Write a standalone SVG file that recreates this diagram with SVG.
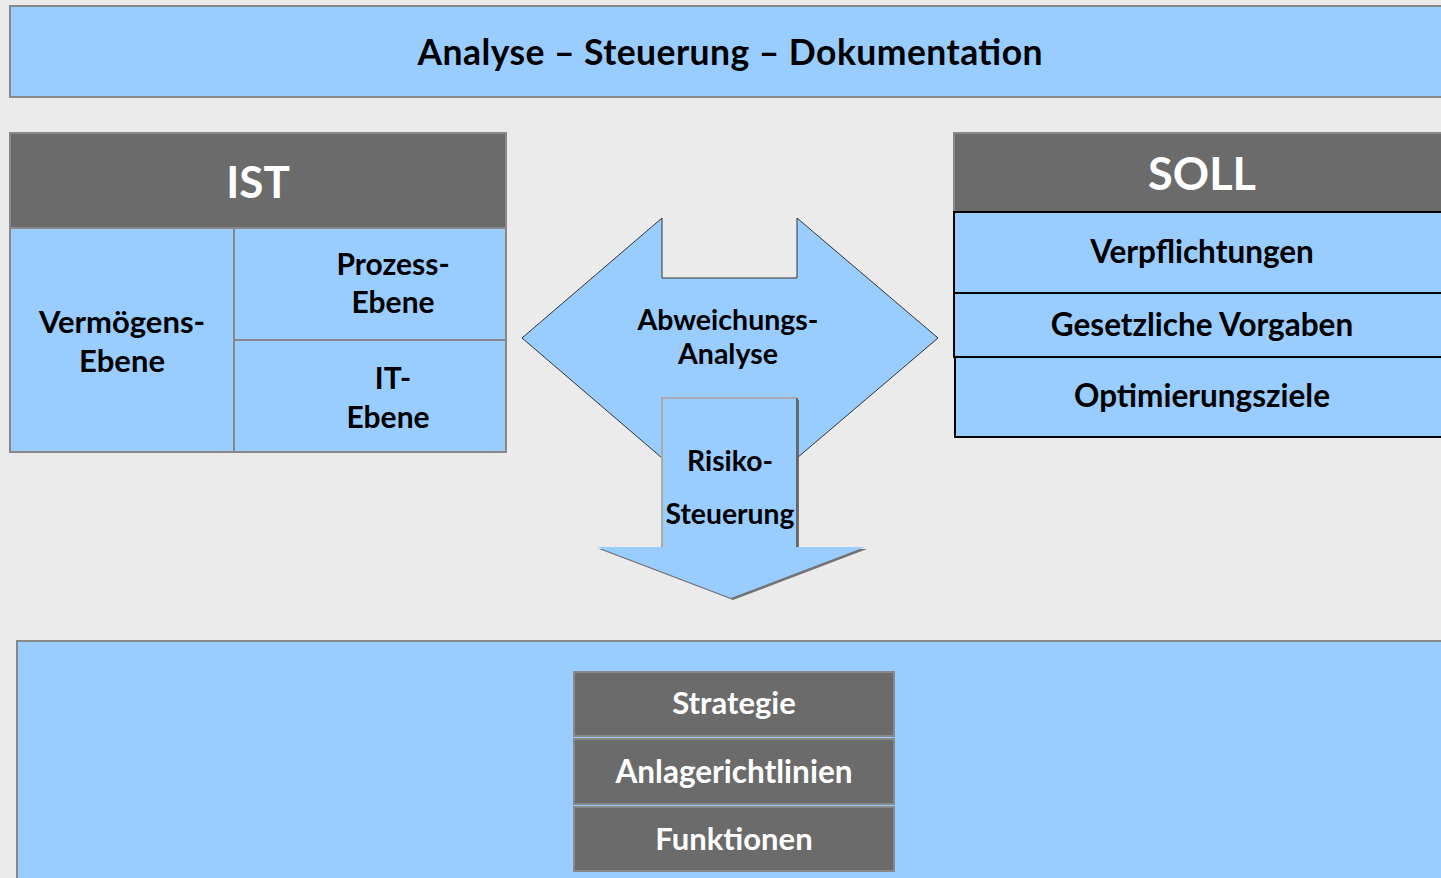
<svg xmlns="http://www.w3.org/2000/svg" width="1441" height="878" viewBox="0 0 1441 878">
<style>
.bg{fill:#EBEBEB}
.blue{fill:#99CCFF;stroke:#888888;stroke-width:2}
.dark{fill:#6B6B6B;stroke:#888888;stroke-width:2}
.row{fill:#99CCFF;stroke:#000000;stroke-width:2}
.t{font-family:Lato,"Open Sans","Liberation Sans",sans-serif;font-weight:bold;text-anchor:middle;fill:#000}
.w{fill:#FFFFFF}
</style>
<rect class="bg" x="0" y="0" width="1441" height="878"/>
<g id="title">
<rect class="blue" x="10" y="6" width="1440" height="91"/>
<text class="t" x="730" y="65" font-size="35.5" textLength="625" lengthAdjust="spacing">Analyse – Steuerung – Dokumentation</text>
</g>
<g id="ist">
<rect class="dark" x="10" y="133" width="496" height="95"/>
<text class="t w" x="258" y="198" font-size="44">IST</text>
<rect class="blue" x="10" y="228" width="224" height="224"/>
<rect class="blue" x="234" y="228" width="272" height="112"/>
<rect class="blue" x="234" y="340" width="272" height="112"/>
<text class="t" x="122" y="333" font-size="31">Vermögens-</text>
<text class="t" x="122" y="372" font-size="31">Ebene</text>
<text class="t" x="393" y="275" font-size="30">Prozess-</text>
<text class="t" x="393" y="313" font-size="30">Ebene</text>
<text class="t" x="393" y="389" font-size="30">IT-</text>
<text class="t" x="388" y="428" font-size="30">Ebene</text>
</g>
<g id="connectors">
<g id="abweichung">
<polygon points="522,338 662,218 662,278 797,278 797,218 938,338 797,458 662,458" fill="#99CCFF" stroke="#333333" stroke-width="1"/>
<text class="t" x="728" y="330" font-size="28.5">Abweichungs-</text>
<text class="t" x="728" y="364" font-size="28.5">Analyse</text>
</g>
<g id="risiko">
<polygon points="664,400 799,400 799,549 867,549 733,600 599,549 664,549" fill="#555555" opacity="0.8"/>
<polygon points="662,398 797,398 797,547 865,547 731,598 597,547 662,547" fill="#99CCFF"/>
<polyline points="662,547 662,398 797,398" fill="none" stroke="#AAAAAA" stroke-width="2"/>
<polyline points="797,398 797,547" fill="none" stroke="#666666" stroke-width="2"/>
<text class="t" x="730" y="471" font-size="28.3">Risiko-</text>
<text class="t" x="730" y="524" font-size="28.3">Steuerung</text>
</g>
</g>
<g id="soll">
<rect class="dark" x="954" y="133" width="496" height="79"/>
<text class="t w" x="1202" y="190" font-size="45">SOLL</text>
<rect class="row" x="954" y="212" width="496" height="81"/>
<rect class="row" x="954" y="293" width="496" height="64"/>
<rect class="row" x="955" y="357" width="496" height="80"/>
<text class="t" x="1202" y="263" font-size="31.5">Verpflichtungen</text>
<text class="t" x="1202" y="336" font-size="31.5">Gesetzliche Vorgaben</text>
<text class="t" x="1202" y="407" font-size="31.5">Optimierungsziele</text>
</g>
<g id="bottom">
<rect class="blue" x="17" y="641" width="1440" height="250"/>
<rect class="dark" x="574" y="672" width="320" height="64"/>
<rect class="dark" x="574" y="739" width="320" height="65"/>
<rect class="dark" x="574" y="807" width="320" height="64"/>
<text class="t w" x="734" y="714" font-size="31">Strategie</text>
<text class="t w" x="734" y="783" font-size="31.5">Anlagerichtlinien</text>
<text class="t w" x="734" y="850" font-size="31">Funktionen</text>
</g>
</svg>
